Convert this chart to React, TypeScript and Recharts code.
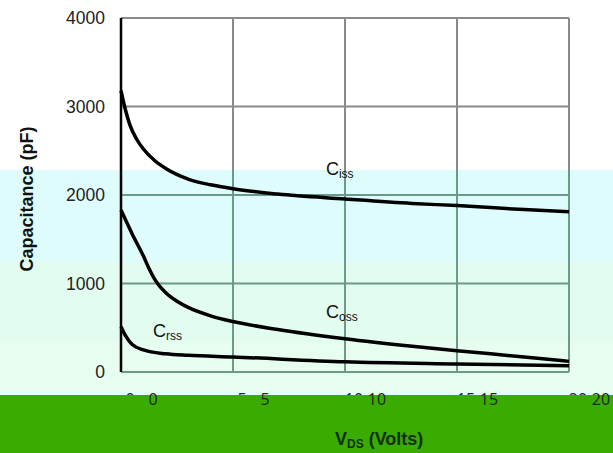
import React from 'react';
import { LineChart, Line, XAxis, YAxis, CartesianGrid, ReferenceDot } from 'recharts';

// V_DS (volts) and capacitance (pF)
const cissV = [0, 0.2, 0.4, 0.7, 1, 1.5, 2, 3, 4, 5, 7, 10, 13, 15, 18, 20];
const cissC = [3180, 2960, 2790, 2630, 2520, 2390, 2300, 2180, 2115, 2070, 2010, 1955, 1905, 1880, 1835, 1810];

const cossV = [0, 0.5, 1, 1.25, 1.5, 2, 2.5, 3, 4, 5, 7, 10, 13, 15, 18, 20];
const cossC = [1830, 1560, 1310, 1170, 1050, 895, 800, 730, 635, 570, 480, 375, 290, 240, 170, 120];

const crssV = [0, 0.2, 0.5, 1, 2, 3, 5, 10, 15, 20];
const crssC = [510, 410, 310, 250, 205, 188, 170, 115, 90, 70];

const xTicks = [0, 5, 10, 15, 20];
const yTicks = [0, 1000, 2000, 3000, 4000];

const toPoints = (xs: number[], ys: number[]) => xs.map((v, i) => ({ v, c: ys[i] }));
const ciss = toPoints(cissV, cissC);
const coss = toPoints(cossV, cossC);
const crss = toPoints(crssV, crssC);

const FONT = '"Liberation Sans", Arial, sans-serif';

const XTick = (props: any) => {
  const { x, payload } = props;
  return (
    <g>
      <text x={x + 9} y={405} textAnchor="middle" fontSize={16} fill="#222" fontFamily="Open Sans, sans-serif" clipPath="url(#ghostClip)">
        {payload.value}
      </text>
      <text x={x + 32} y={405} textAnchor="middle" fontSize={16} fill="#1c2a14" fontFamily="Open Sans, sans-serif">
        {payload.value}
      </text>
    </g>
  );
};

const curveLabel = (sub: string) => (props: any) => {
  const { x, y } = props.viewBox;
  return (
    <text x={x} y={y} fontFamily={FONT} fill="#111">
      <tspan fontSize={18}>C</tspan>
      <tspan fontSize={12} dy={3}>{sub}</tspan>
    </text>
  );
};

export default function App() {
  return (
    <div style={{ position: 'absolute', left: 0, top: 0, width: 613, height: 453, background: '#fff', overflow: 'hidden' }}>
      <div style={{ position: 'absolute', left: 0, top: 170, width: 613, height: 92, background: '#dffcfc' }} />
      <div style={{ position: 'absolute', left: 0, top: 262, width: 613, height: 80, background: '#e2fcef' }} />
      <div style={{ position: 'absolute', left: 0, top: 342, width: 613, height: 53, background: '#e6fdf0' }} />
      <div style={{ position: 'absolute', left: 0, top: 395, width: 613, height: 58, background: '#3aab00' }} />
      <div style={{ position: 'absolute', left: 0, top: 0 }}>
        <LineChart width={613} height={453} margin={{ top: 18, right: 44, bottom: 51, left: 61 }}>
          <defs>
            <linearGradient id="gridStroke" x1={0} y1={0} x2={0} y2={453} gradientUnits="userSpaceOnUse">
              <stop offset="0" stopColor="#8a8a8a" />
              <stop offset="0.375" stopColor="#8a8a8a" />
              <stop offset="0.377" stopColor="#6b9b88" />
              <stop offset="1" stopColor="#6b9b88" />
            </linearGradient>
            <clipPath id="ghostClip">
              <rect x={0} y={0} width={613} height={395} />
            </clipPath>
          </defs>
          <CartesianGrid stroke="url(#gridStroke)" strokeWidth={2} />
          <XAxis
            type="number"
            dataKey="v"
            domain={[0, 20]}
            ticks={xTicks}
            axisLine={false}
            tickLine={false}
            height={30}
            tick={<XTick />}
            label={{
              content: () => (
                <text x={335} y={445} fontFamily={FONT} fontWeight="bold" fontSize={18} fill="#12300a">
                  V<tspan fontSize={12} dy={3}>DS</tspan>
                  <tspan dy={-3}> (Volts)</tspan>
                </text>
              ),
            }}
          />
          <YAxis
            type="number"
            domain={[0, 4000]}
            ticks={yTicks}
            width={60}
            axisLine={{ stroke: '#000', strokeWidth: 2.5 }}
            tickLine={false}
            tickMargin={10}
            tick={{ fontSize: 17.5, fill: '#222', fontFamily: FONT }}
            label={{
              content: () => (
                <text
                  x={0}
                  y={0}
                  transform="translate(33, 199) rotate(-90)"
                  textAnchor="middle"
                  fontFamily={FONT}
                  fontWeight="bold"
                  fontSize={18}
                  fill="#111"
                >
                  Capacitance (pF)
                </text>
              ),
            }}
          />
          <Line data={ciss} dataKey="c" type="monotone" stroke="#000" strokeWidth={3.5} dot={false} isAnimationActive={false} />
          <Line data={coss} dataKey="c" type="monotone" stroke="#000" strokeWidth={3.5} dot={false} isAnimationActive={false} />
          <Line data={crss} dataKey="c" type="monotone" stroke="#000" strokeWidth={3.5} dot={false} isAnimationActive={false} />
          <ReferenceDot x={9.15} y={2226} r={0} stroke="none" label={{ content: curveLabel('iss') }} />
          <ReferenceDot x={9.15} y={610} r={0} stroke="none" label={{ content: curveLabel('oss') }} />
          <ReferenceDot x={1.43} y={395} r={0} stroke="none" label={{ content: curveLabel('rss') }} />
        </LineChart>
      </div>
    </div>
  );
}
